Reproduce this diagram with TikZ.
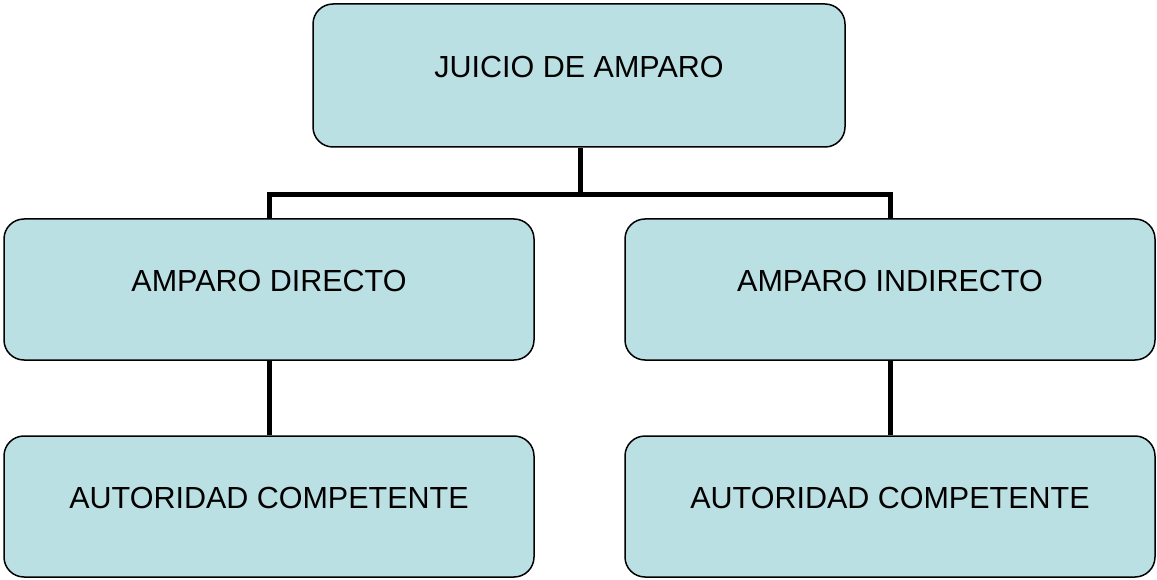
\documentclass[tikz,border=0pt]{standalone}
\usepackage{fontspec}
\setmainfont{Liberation Sans}
\definecolor{boxfill}{HTML}{BBE0E3}
\begin{document}
\begin{tikzpicture}[x=1pt,y=-1pt,
  box/.style={draw=black,line width=1.5pt,fill=boxfill,rounded corners=20pt,
    minimum width=#1,inner sep=0pt,font=\fontsize{30.5}{36}\selectfont,text depth=18pt},
  conn/.style={line width=5pt}]
\useasboundingbox (0,0) rectangle (1157,580);
\node[box=532pt,minimum height=143pt] (top) at (579,75.5) {JUICIO DE AMPARO};
\node[box=530pt,minimum height=141pt] (ld) at (269,289.5) {AMPARO DIRECTO};
\node[box=530pt,minimum height=141pt] (ri) at (890,289.5) {AMPARO INDIRECTO};
\node[box=530pt,minimum height=141pt] (lb) at (269,506.5) {AUTORIDAD COMPETENTE};
\node[box=530pt,minimum height=141pt] (rb) at (890,506.5) {AUTORIDAD COMPETENTE};
\coordinate (j) at (580,195);
\draw[conn] (top.south -| j) -- (j);
\draw[conn] (ld.north) |- (j) -| (ri.north);
\draw[conn] (ld.south) -- (lb.north);
\draw[conn] (ri.south) -- (rb.north);
\end{tikzpicture}
\end{document}
